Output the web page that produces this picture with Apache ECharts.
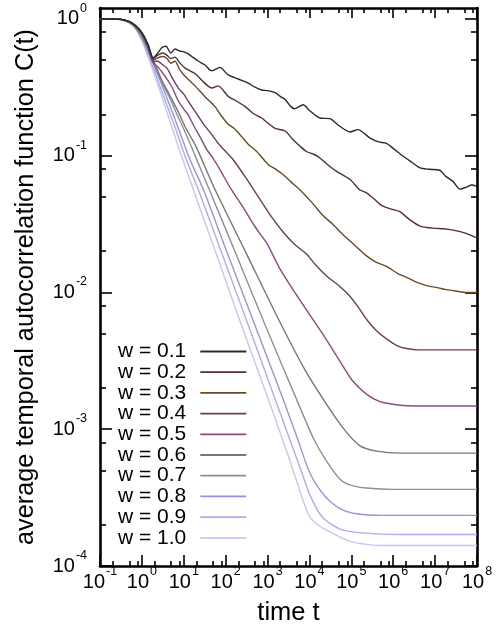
<!DOCTYPE html>
<html>
<head>
<meta charset="utf-8">
<script src="https://cdn.jsdelivr.net/npm/echarts@6/dist/echarts.min.js"></script>
<style>
html,body{margin:0;padding:0;background:#fff;}
#chart{width:500px;height:635px;}
</style>
</head>
<body>
<div id="chart"></div>
<script>
// ---- data, as [log10(t), log10(C)] pairs ----
const w01 = [[-1,0],[-0.7,-0.001],[-0.5,-0.004],[-0.3,-0.02],[-0.15,-0.05],[0,-0.10],[0.15,-0.19],[0.27,-0.285],[0.38,-0.25],[0.48,-0.21],[0.575,-0.20],[0.69,-0.25],[0.79,-0.22],[0.9,-0.235],[0.99,-0.24],[1.1,-0.255],[1.19,-0.275],[1.35,-0.31],[1.5,-0.336],[1.67,-0.38],[1.86,-0.355],[2.06,-0.41],[2.3,-0.44],[2.54,-0.47],[2.7,-0.50],[2.86,-0.52],[3.0,-0.525],[3.18,-0.54],[3.3,-0.567],[3.42,-0.59],[3.55,-0.64],[3.65,-0.657],[3.85,-0.628],[4.0,-0.67],[4.25,-0.725],[4.49,-0.73],[4.7,-0.78],[4.97,-0.827],[5.16,-0.81],[5.44,-0.87],[5.65,-0.90],[5.84,-0.91],[6.05,-0.96],[6.24,-1.005],[6.45,-1.05],[6.64,-1.09],[6.85,-1.10],[7.11,-1.107],[7.25,-1.15],[7.43,-1.19],[7.59,-1.245],[7.75,-1.23],[7.87,-1.215],[8.0,-1.225]];
const w02 = [[-1,0],[-0.7,-0.001],[-0.5,-0.004],[-0.3,-0.02],[-0.15,-0.05],[0,-0.10],[0.15,-0.19],[0.27,-0.29],[0.38,-0.265],[0.5,-0.25],[0.59,-0.263],[0.69,-0.29],[0.79,-0.28],[0.9,-0.32],[1.03,-0.36],[1.15,-0.38],[1.27,-0.40],[1.5,-0.47],[1.67,-0.506],[1.82,-0.49],[2.06,-0.567],[2.25,-0.6],[2.46,-0.64],[2.65,-0.69],[2.86,-0.725],[3.0,-0.76],[3.18,-0.80],[3.42,-0.82],[3.6,-0.88],[3.77,-0.93],[3.93,-0.97],[4.1,-0.99],[4.25,-1.017],[4.45,-1.07],[4.65,-1.115],[4.97,-1.175],[5.2,-1.25],[5.35,-1.27],[5.52,-1.31],[5.7,-1.36],[5.84,-1.38],[6.0,-1.395],[6.16,-1.41],[6.4,-1.47],[6.64,-1.515],[6.95,-1.53],[7.2,-1.535],[7.43,-1.545],[7.7,-1.565],[7.91,-1.59],[8.0,-1.6]];
const w03 = [[-1,0],[-0.7,-0.001],[-0.5,-0.004],[-0.3,-0.02],[-0.15,-0.05],[0,-0.105],[0.15,-0.2],[0.27,-0.30],[0.38,-0.285],[0.5,-0.275],[0.6,-0.29],[0.69,-0.325],[0.79,-0.31],[0.9,-0.37],[1.03,-0.42],[1.15,-0.455],[1.27,-0.49],[1.5,-0.567],[1.74,-0.64],[1.9,-0.71],[2.06,-0.77],[2.2,-0.8],[2.38,-0.86],[2.55,-0.92],[2.74,-0.97],[3.02,-1.066],[3.2,-1.1],[3.375,-1.14],[3.55,-1.19],[3.77,-1.25],[4.05,-1.34],[4.33,-1.44],[4.55,-1.5],[4.81,-1.58],[5.1,-1.66],[5.37,-1.735],[5.6,-1.78],[5.84,-1.81],[6.1,-1.86],[6.32,-1.89],[6.55,-1.925],[6.8,-1.95],[7.05,-1.965],[7.27,-1.98],[7.5,-1.99],[7.75,-2.0],[8.0,-2.0]];
const w04 = [[-1,0],[-0.7,-0.001],[-0.5,-0.004],[-0.3,-0.02],[-0.15,-0.05],[0,-0.105],[0.15,-0.205],[0.27,-0.31],[0.38,-0.31],[0.47,-0.33],[0.6,-0.36],[0.72,-0.43],[0.87,-0.506],[1.0,-0.55],[1.1,-0.6],[1.27,-0.677],[1.45,-0.76],[1.67,-0.847],[1.85,-0.92],[2.06,-0.99],[2.18,-1.03],[2.5,-1.17],[2.82,-1.32],[3.1,-1.45],[3.375,-1.56],[3.65,-1.65],[3.93,-1.72],[4.15,-1.8],[4.41,-1.88],[4.7,-1.95],[4.97,-2.03],[5.17,-2.11],[5.37,-2.20],[5.6,-2.28],[5.84,-2.34],[6.1,-2.39],[6.32,-2.41],[6.6,-2.42],[7.0,-2.42],[7.5,-2.42],[8.0,-2.42]];
const w05 = [[-1,0],[-0.7,-0.001],[-0.5,-0.004],[-0.3,-0.02],[-0.15,-0.055],[0,-0.11],[0.15,-0.21],[0.27,-0.32],[0.38,-0.35],[0.47,-0.385],[0.6,-0.44],[0.72,-0.5],[0.87,-0.60],[1.0,-0.66],[1.1,-0.7],[1.27,-0.80],[1.4,-0.87],[1.55,-0.956],[1.7,-1.02],[1.86,-1.10],[2.1,-1.23],[2.42,-1.38],[2.7,-1.52],[2.98,-1.64],[3.3,-1.83],[3.65,-2.0],[4.0,-2.16],[4.35,-2.32],[4.7,-2.49],[5.0,-2.635],[5.2,-2.7],[5.37,-2.745],[5.55,-2.78],[5.76,-2.805],[6.16,-2.825],[6.6,-2.83],[7.3,-2.83],[8.0,-2.83]];
const w06 = [[-1,0],[-0.7,-0.001],[-0.5,-0.005],[-0.3,-0.025],[-0.15,-0.06],[0,-0.125],[0.15,-0.22],[0.3,-0.32],[0.47,-0.445],[0.65,-0.55],[0.87,-0.68],[1.05,-0.8],[1.27,-0.92],[1.39,-1.0],[1.745,-1.248],[2.5,-1.72],[3.3,-2.22],[3.9,-2.57],[4.37,-2.8],[4.8,-2.99],[5.2,-3.12],[5.6,-3.16],[6.2,-3.175],[7.0,-3.175],[8.0,-3.175]];
const w07 = [[-1,0],[-0.7,-0.001],[-0.5,-0.005],[-0.3,-0.026],[-0.15,-0.063],[0,-0.13],[0.15,-0.23],[0.3,-0.34],[0.47,-0.46],[0.65,-0.57],[0.87,-0.72],[1.05,-0.84],[1.27,-1.0],[1.625,-1.26],[2.3,-1.76],[3.0,-2.28],[3.69,-2.78],[4.1,-3.07],[4.4,-3.23],[4.73,-3.365],[5.0,-3.41],[5.36,-3.43],[6.0,-3.44],[7.0,-3.44],[8.0,-3.44]];
const w08 = [[-1,0],[-0.7,-0.001],[-0.5,-0.005],[-0.3,-0.027],[-0.15,-0.067],[0,-0.14],[0.15,-0.24],[0.3,-0.35],[0.5,-0.5],[0.87,-0.8],[1.15,-1.03],[1.47,-1.25],[2.0,-1.68],[2.7,-2.24],[3.37,-2.78],[3.716,-3.07],[4.01,-3.32],[4.37,-3.49],[4.73,-3.58],[5.16,-3.62],[5.75,-3.63],[7.0,-3.63],[8.0,-3.63]];
const w09 = [[-1,0],[-0.7,-0.001],[-0.5,-0.005],[-0.3,-0.028],[-0.15,-0.07],[0,-0.15],[0.15,-0.26],[0.3,-0.38],[0.5,-0.55],[0.8,-0.8],[1.05,-1.02],[1.346,-1.248],[2.0,-1.79],[2.6,-2.29],[3.18,-2.78],[3.5,-3.05],[3.8,-3.3],[4.01,-3.48],[4.3,-3.64],[4.73,-3.73],[5.32,-3.76],[6.16,-3.77],[7.0,-3.77],[8.0,-3.77]];
const w10 = [[-1,0],[-0.7,-0.001],[-0.5,-0.005],[-0.3,-0.03],[-0.15,-0.075],[0,-0.16],[0.15,-0.28],[0.3,-0.41],[0.5,-0.59],[0.8,-0.87],[1.0,-1.05],[1.227,-1.248],[1.8,-1.74],[2.4,-2.26],[3.017,-2.78],[3.5,-3.2],[3.97,-3.62],[4.2,-3.70],[4.49,-3.75],[4.97,-3.82],[5.68,-3.85],[7.0,-3.85],[8.0,-3.85]];

const seriesNames = ['w = 0.1','w = 0.2','w = 0.3','w = 0.4','w = 0.5','w = 0.6','w = 0.7','w = 0.8','w = 0.9','w = 1.0'];
const seriesData = [w01,w02,w03,w04,w05,w06,w07,w08,w09,w10];
const seriesColors = ['#2a2a2a','#553030','#6e4a24','#6f3b5e','#8c4a80','#777777','#8f8f8f','#9494dc','#acacf0','#c6c6fa'];

// tick exponents / mantissas
const xMajorExp = [-1,0,1,2,3,4,5,6,7,8];
const yMajorExp = [-4,-3,-2,-1,0];
const minorMantissa = [2,5,8];

const X_MIN = 0.1, X_MAX = 1e8, Y_MIN = 1e-4, Y_MAX = 1.2;
const FONT = 'Liberation Sans, Arial, Helvetica, sans-serif';

const pow10 = e => Math.pow(10, e);
const xMajor = xMajorExp.map(pow10);
const yMajor = yMajorExp.map(pow10);
function minors(exps, maxV) {
  const out = [];
  exps.forEach(e => minorMantissa.forEach(m => { const v = m * Math.pow(10, e); if (v < maxV) out.push(v); }));
  return out;
}
const xMinor = minors(xMajorExp.slice(0, -1), X_MAX);
const yMinor = minors(yMajorExp, Y_MAX);

function supLabel(v) {
  const l = Math.log10(v);
  const e = Math.round(l);
  if (Math.abs(l - e) > 1e-6) return '';
  return '{b|10}{e|' + e + '}';
}
const rich = {
  b: {fontSize: 20, fontFamily: FONT, color: '#000', lineHeight: 20, verticalAlign: 'bottom'},
  e: {fontSize: 12.5, fontFamily: FONT, color: '#000', lineHeight: 13, verticalAlign: 'bottom', padding: [0,0,14,1]}
};

function axis(dim, position, ticks, len, showLine, labels, extra) {
  const a = {
    type: 'log', logBase: 10, gridIndex: 0, position: position,
    min: dim === 'x' ? X_MIN : Y_MIN, max: dim === 'x' ? X_MAX : Y_MAX,
    axisLine: {show: showLine, onZero: false, lineStyle: {color: '#000', width: 2.6}},
    axisTick: {show: true, inside: true, length: len, lineStyle: {color: '#000', width: 1.6}, customValues: ticks},
    axisLabel: labels ? Object.assign({show: true, customValues: ticks, formatter: supLabel, rich: rich}, labels) : {show: false},
    splitLine: {show: false}, minorTick: {show: false}, minorSplitLine: {show: false},
    axisPointer: {show: false}, silent: true
  };
  return Object.assign(a, extra || {});
}

const xAxes = [
  axis('x', 'bottom', xMajor, 11, true, {margin: 6}, {
    name: 'time t', nameLocation: 'middle', nameGap: 34,
    nameTextStyle: {fontSize: 25.5, fontFamily: FONT, color: '#000'}
  }),
  axis('x', 'bottom', xMinor, 5, false, null),
  axis('x', 'top', xMajor, 10, true, null),
  axis('x', 'top', xMinor, 5, false, null)
];
const yAxes = [
  axis('y', 'left', yMajor, 12, true, {margin: 13}, {
    name: 'average temporal autocorrelation function C(t)', nameLocation: 'middle', nameGap: 61, nameRotate: 90,
    nameTextStyle: {fontSize: 25.3, fontFamily: FONT, color: '#000'}
  }),
  axis('y', 'left', yMinor, 6, false, null),
  axis('y', 'right', yMajor, 12, true, null),
  axis('y', 'right', yMinor, 6, false, null)
];

const series = [];
for (let i = seriesData.length - 1; i >= 0; i--) {
  series.push({
    name: seriesNames[i], type: 'line', xAxisIndex: 0, yAxisIndex: 0,
    data: seriesData[i].map(p => [pow10(p[0]), pow10(p[1])]),
    showSymbol: false, symbol: 'none', smooth: 0.25,
    lineStyle: {color: seriesColors[i], width: 1.4},
    itemStyle: {color: seriesColors[i]},
    emphasis: {disabled: true}, animation: false
  });
}

const chart = echarts.init(document.getElementById('chart'), null, {renderer: 'canvas'});
chart.setOption({
  animation: false,
  backgroundColor: '#fff',
  grid: {left: 100, top: 8, width: 377, height: 558, containLabel: false},
  xAxis: xAxes,
  yAxis: yAxes,
  legend: {
    data: seriesNames, orient: 'vertical', left: 118, top: 341, align: 'right',
    icon: 'rect', itemWidth: 46, itemHeight: 1.8, itemGap: -0.3, padding: 0,
    textStyle: {fontSize: 21, fontFamily: FONT, color: '#000', padding: [0, 9, 0, 0]},
    selectedMode: false
  },
  series: series
});
</script>
</body>
</html>
